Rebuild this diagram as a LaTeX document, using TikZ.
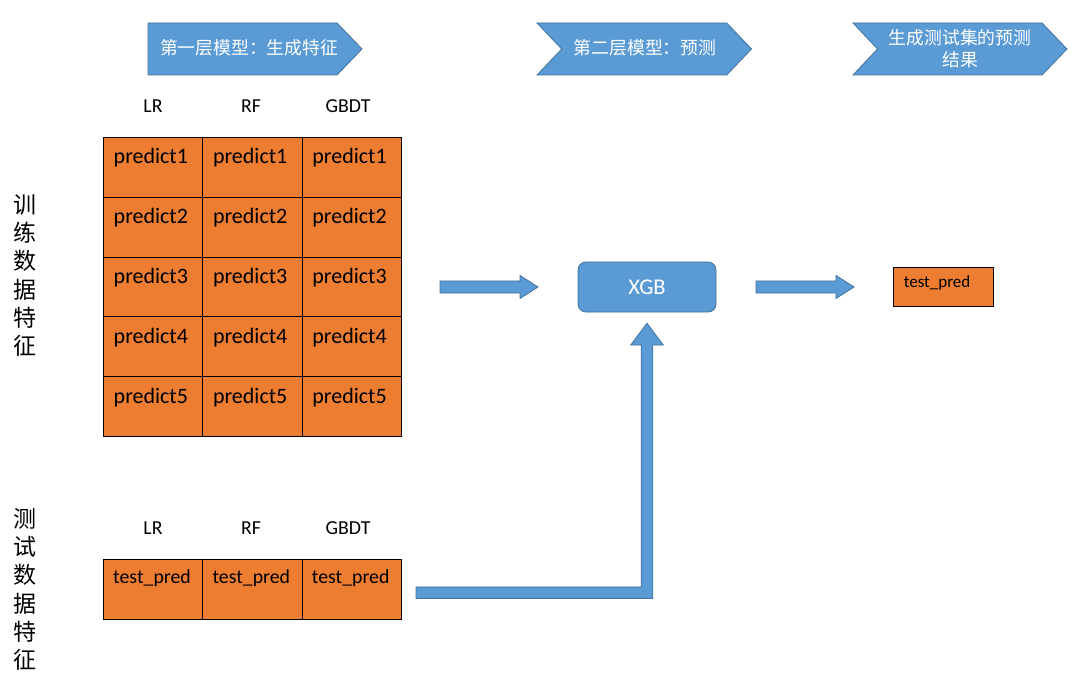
\documentclass[tikz,border=0pt]{standalone}
\usepackage{fontspec}
\setmainfont{Carlito}
\newfontfamily\cjk{Noto Sans CJK SC}
\usetikzlibrary{calc}
\definecolor{blu}{HTML}{5B9BD5}
\definecolor{bluedge}{HTML}{41719C}
\definecolor{org}{HTML}{ED7D31}
\begin{document}
\begin{tikzpicture}[x=1pt,y=-1pt,
  cell/.style={draw=black, fill=org, line width=0.9pt, minimum width=99.33pt, minimum height=59.8pt, inner sep=0pt, anchor=north west},
  celltxt/.style={anchor=west, inner sep=0pt, font=\fontsize{22}{25}\selectfont},
  smalltxt/.style={anchor=west, inner sep=0pt, font=\fontsize{19.8}{23}\selectfont},
  collab/.style={inner sep=0pt, font=\fontsize{19.8}{23}\selectfont},
  chev/.style={fill=blu, draw=bluedge, line width=0.8pt},
  chevtxt/.style={text=white, align=center, inner sep=0pt, font=\cjk\fontsize{17.8}{22}\selectfont},
  vlab/.style={align=center, inner sep=0pt, font=\cjk\fontsize{23}{28.3}\selectfont},
  blk/.style={fill=blu, draw=bluedge, line width=0.8pt}
]
\useasboundingbox (0,0) rectangle (1073,676);

% header chevrons
\draw[chev] (148,23) -- (337,23) -- (362,49) -- (337,75) -- (148,75) -- cycle;
\draw[chev] (537,23) -- (726.7,23) -- (751.5,49) -- (726.7,75) -- (537,75) -- (561.7,49) -- cycle;
\draw[chev] (853,23) -- (1042,23) -- (1067,49) -- (1042,75) -- (853,75) -- (877.5,49) -- cycle;
\node[chevtxt] (h1) at (249,48) {第一层模型：生成特征};
\node[chevtxt] (h2) at (645,48) {第二层模型：预测};
\node[chevtxt] (h3) at (960,49) {生成测试集的预测\\结果};

% column labels
\foreach \n/\x in {LR/153, RF/251, GBDT/348}{
  \node[collab] (top\n) at (\x,106) {\n};
  \node[collab] (bot\n) at (\x,528) {\n};
}

% training grid
\foreach \r in {1,...,5}{
  \foreach \c/\x in {1/103, 2/202.33, 3/301.67}{
    \node[cell] (c\r\c) at (\x,{137+(\r-1)*59.8}) {};
    \node[celltxt] (t\r\c) at ($(c\r\c.north west)+(10.5,21)$) {predict\r};
  }
}

% test row
\foreach \c/\x in {1/103, 2/202.33, 3/301.67}{
  \node[cell, minimum height=60pt] (d\c) at (\x,559) {};
  \node[smalltxt] (u\c) at ($(d\c.north west)+(10,19)$) {test\_pred};
}

% vertical labels
\node[vlab] (vtrain) at (25,275.5) {训\\练\\数\\据\\特\\征};
\node[vlab] (vtest) at (25,589.5) {测\\试\\数\\据\\特\\征};

% XGB box
\node[fill=blu, draw=bluedge, line width=0.8pt, rounded corners=8pt, minimum width=138pt, minimum height=50pt, text=white, font=\fontsize{22.5}{26}\selectfont] (xgb) at (647,287) {XGB};

% result box
\node[draw=black, fill=org, line width=0.9pt, minimum width=100pt, minimum height=39pt, inner sep=0pt] (res) at (943,286.5) {};
\node[anchor=west, inner sep=0pt, font=\fontsize{17}{20}\selectfont] (restxt) at ($(res.north west)+(11,16.5)$) {test\_pred};

% straight block arrows
\coordinate (a1s) at (440,287);
\coordinate (a1e) at (538,287);
\coordinate (a2s) at (756,287);
\coordinate (a2e) at (854,287);
\foreach \s/\e in {a1s/a1e, a2s/a2e}{
  \draw[blk] ($(\s)+(0,-6)$) -- ($(\e)+(-18,-6)$) -- ($(\e)+(-18,-11.5)$) -- (\e)
     -- ($(\e)+(-18,11.5)$) -- ($(\e)+(-18,6)$) -- ($(\s)+(0,6)$) -- cycle;
}

% bent block arrow from test row to XGB
\coordinate (bs) at (416,592.7);
\coordinate (bt) at (647,323.3);
\draw[blk] ($(bs)+(0,-5.8)$) -- ($(bt|-bs)+(-5.8,-5.8)$) -- ($(bt)+(-5.8,21.7)$) -- ($(bt)+(-16.3,21.7)$)
   -- (bt) -- ($(bt)+(16.3,21.7)$) -- ($(bt)+(5.8,21.7)$) -- ($(bt|-bs)+(5.8,5.8)$) -- ($(bs)+(0,5.8)$) -- cycle;
\end{tikzpicture}
\end{document}
